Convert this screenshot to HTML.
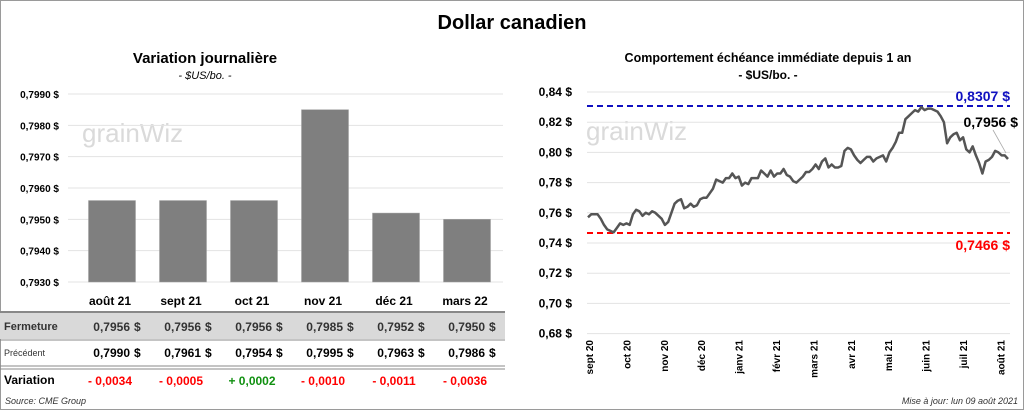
<!DOCTYPE html>
<html><head><meta charset="utf-8"><style>
body{margin:0;background:#fff}
svg{display:block;font-family:"Liberation Sans",sans-serif}
</style></head><body>
<svg id="c" width="1024" height="410" viewBox="0 0 1024 410">
<rect x="0.5" y="0.5" width="1023" height="409" fill="#fff" stroke="#9a9a9a"/>
<text x="512" y="29" text-anchor="middle" font-size="20" font-weight="bold">Dollar canadien</text>
<text x="205" y="63" text-anchor="middle" font-size="15" font-weight="bold">Variation  journalière</text>
<text x="205" y="79" text-anchor="middle" font-size="11" font-style="italic">- $US/bo. -</text>
<text x="768" y="62" text-anchor="middle" font-size="12.5" font-weight="bold">Comportement échéance immédiate depuis 1 an</text>
<text x="768" y="79" text-anchor="middle" font-size="12" font-weight="bold">- $US/bo. -</text>
<text x="82" y="142" font-size="26" fill="#dadada">grainWiz</text>
<text x="586" y="140" font-size="26" fill="#dadada">grainWiz</text>
<g id="left"></g>
<g id="table"></g>
<g id="right"></g>
<text x="5" y="404" font-size="9" font-style="italic" fill="#333">Source: CME Group</text>
<text x="1018" y="404" text-anchor="end" font-size="9" font-style="italic" fill="#333">Mise à jour: lun 09 août 2021</text>
</svg>
<script>
const barCats=["août 21","sept 21","oct 21","nov 21","déc 21","mars 22"];
const barVals=[0.7956,0.7956,0.7956,0.7985,0.7952,0.7950];
const prevVals=[0.7990,0.7961,0.7954,0.7995,0.7963,0.7986];
const leftTicks=[0.7930,0.7940,0.7950,0.7960,0.7970,0.7980,0.7990];
const lineMonths=["sept 20","oct 20","nov 20","déc 20","janv 21","févr 21","mars 21","avr 21","mai 21","juin 21","juil 21","août 21"];
const lineVals=[0.757,0.759,0.759,0.759,0.756,0.752,0.749,0.748,0.747,0.750,0.753,0.752,0.753,0.752,0.759,0.762,0.761,0.758,0.760,0.759,0.761,0.760,0.758,0.756,0.752,0.754,0.760,0.766,0.768,0.769,0.763,0.764,0.766,0.764,0.765,0.769,0.770,0.770,0.773,0.776,0.782,0.781,0.780,0.783,0.783,0.786,0.783,0.784,0.778,0.780,0.779,0.783,0.783,0.783,0.788,0.786,0.784,0.788,0.784,0.786,0.786,0.789,0.785,0.784,0.781,0.780,0.782,0.784,0.787,0.787,0.789,0.792,0.789,0.794,0.796,0.790,0.792,0.790,0.790,0.791,0.801,0.803,0.802,0.798,0.795,0.793,0.795,0.797,0.797,0.794,0.796,0.797,0.798,0.794,0.800,0.803,0.807,0.813,0.813,0.822,0.824,0.826,0.828,0.827,0.830,0.828,0.829,0.829,0.828,0.827,0.824,0.820,0.806,0.810,0.812,0.813,0.808,0.810,0.802,0.800,0.804,0.798,0.793,0.786,0.794,0.795,0.797,0.801,0.800,0.798,0.798,0.7956];
const rightTicks=[0.68,0.70,0.72,0.74,0.76,0.78,0.80,0.82,0.84];
const maxVal=0.8307, minVal=0.7466;
const NS="http://www.w3.org/2000/svg";
function mk(p,t,a,txt){const e=document.createElementNS(NS,t);for(const k in a)e.setAttribute(k,a[k]);if(txt!==undefined)e.textContent=txt;p.appendChild(e);return e;}
const fmt=(v,d)=>v.toFixed(d).replace('.',',');
const L=document.getElementById('left');
const lx0=76.5,lx1=502.5,ly=v=>282-(v-0.7930)/0.001*31.33;
const band=(lx1-lx0)/barCats.length;
leftTicks.forEach(t=>{
 const g=mk(L,'line',{x1:68,x2:503,y1:ly(t),y2:ly(t),stroke:'#e3e3e3'});
 
 
 const tx=mk(L,'text',{x:59,y:ly(t)+4,'text-anchor':'end','font-size':10,'font-weight':'bold'},fmt(t,4)+' $');
 
 
});
barVals.forEach((v,i)=>{
 const cx=lx0+band*(i+0.5);
 const r=mk(L,'rect',{x:cx-23.5,y:ly(v),width:47,height:282-ly(v),fill:'#7f7f7f',stroke:'#a0a0a0','stroke-width':0.5});
 
 
});
const T=document.getElementById('table');
mk(T,'rect',{x:0,y:313,width:505,height:26,fill:'#d9d9d9'});
mk(T,'line',{x1:0,x2:505,y1:312,y2:312,stroke:'#888','stroke-width':2});
mk(T,'line',{x1:0,x2:505,y1:340,y2:340,stroke:'#888','stroke-width':1});
mk(T,'line',{x1:0,x2:505,y1:366,y2:366,stroke:'#888','stroke-width':1});
mk(T,'line',{x1:0,x2:505,y1:369,y2:369,stroke:'#888','stroke-width':1});
const rl=[["Fermeture",330,11,'bold','#333'],["Précédent",356,9,'normal','#333'],["Variation",384,12,'bold','#000']];
rl.forEach(r=>{const t=mk(T,'text',{x:4,y:r[1],'font-size':r[2],'font-weight':r[3],fill:r[4]},r[0]);
 
 });
barCats.forEach((c,i)=>{
 const cx=lx0+band*(i+0.5);
 const h=mk(T,'text',{x:cx-2,y:305,'text-anchor':'middle','font-size':12,'font-weight':'bold'},c);
 
 
 const f=mk(T,'text',{x:cx+18,y:331,'text-anchor':'end','font-size':12,'font-weight':'bold',fill:'#333'},fmt(barVals[i],4));
 
 
 mk(T,'text',{x:cx+22,y:331,'font-size':12,'font-weight':'bold',fill:'#333'},'$');
 const p=mk(T,'text',{x:cx+18,y:357,'text-anchor':'end','font-size':12,'font-weight':'bold'},fmt(prevVals[i],4));
 
 
 mk(T,'text',{x:cx+22,y:357,'font-size':12,'font-weight':'bold'},'$');
 const d=barVals[i]-prevVals[i];
 const s=(d>=0?'+ ':'- ')+fmt(Math.abs(d),4);
 const v=mk(T,'text',{x:cx-2,y:385,'text-anchor':'middle','font-size':12,'font-weight':'bold',fill:d>=0?'#109010':'#ff0000'},s);
 
 
});
const R=document.getElementById('right');
const rx0=588,rx1=1008,ry=v=>92+(0.84-v)/0.02*30.2;
rightTicks.forEach(t=>{
 const g=mk(R,'line',{x1:587,x2:1010,y1:ry(t),y2:ry(t),stroke:'#e3e3e3'});
 
 
 const tx=mk(R,'text',{x:572,y:ry(t)+4,'text-anchor':'end','font-size':12,'font-weight':'bold'},fmt(t,2)+' $');
 
 
});
lineMonths.forEach((m,i)=>{
 const x=589+i*37.4;
 const t=mk(R,'text',{x:x+4,y:340,'text-anchor':'end','font-size':10,'font-weight':'bold',transform:`rotate(-90 ${x+4} 340)`},m);
 
 
});
const mx=mk(R,'line',{x1:587,x2:1010,y1:ry(maxVal),y2:ry(maxVal),stroke:'#1010c0','stroke-width':2,'stroke-dasharray':'6,4'});


const mn=mk(R,'line',{x1:587,x2:1010,y1:ry(minVal),y2:ry(minVal),stroke:'#ff0000','stroke-width':2,'stroke-dasharray':'6,4'});


const pts=lineVals.map((v,i)=>(rx0+i*(rx1-rx0)/(lineVals.length-1)).toFixed(1)+','+ry(v).toFixed(1)).join(' ');
const pl=mk(R,'polyline',{points:pts,fill:'none',stroke:'#555','stroke-width':2.5,'stroke-linejoin':'round'});


const ml=mk(R,'text',{x:1010,y:ry(maxVal)-5,'text-anchor':'end','font-size':14,'font-weight':'bold',fill:'#1010c0'},fmt(maxVal,4)+' $');


const nl=mk(R,'text',{x:1010,y:ry(minVal)+17,'text-anchor':'end','font-size':14,'font-weight':'bold',fill:'#ff0000'},fmt(minVal,4)+' $');


const last=lineVals[lineVals.length-1];
mk(R,'line',{x1:993,y1:130,x2:1006,y2:ry(last)-6,stroke:'#aaa','stroke-width':0.8});
const ll=mk(R,'text',{x:1018,y:127,'text-anchor':'end','font-size':14,'font-weight':'bold'},fmt(last,4)+' $');


</script>
</body></html>
